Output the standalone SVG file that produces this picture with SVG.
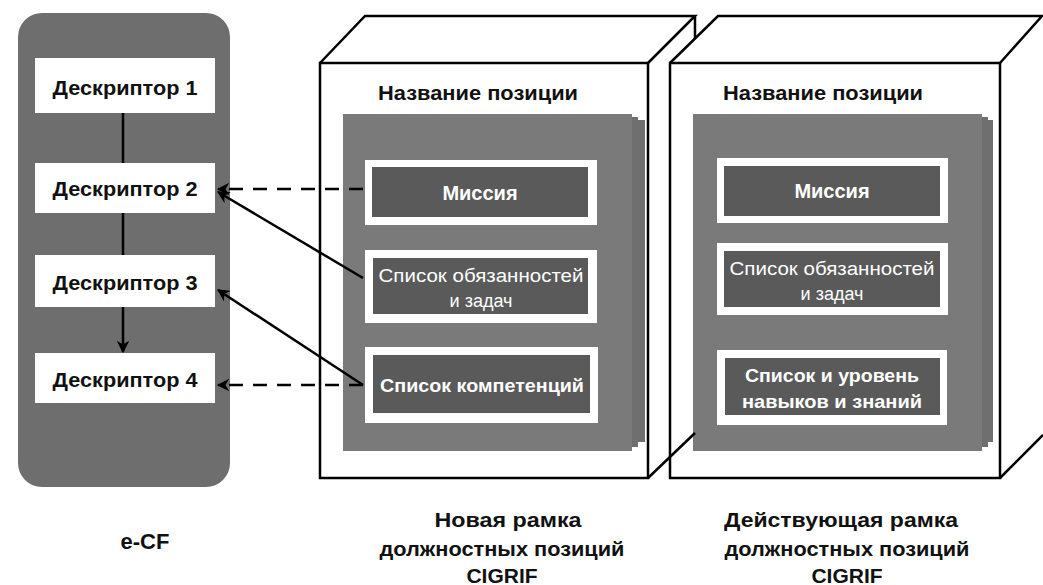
<svg xmlns="http://www.w3.org/2000/svg" width="1043" height="585" viewBox="0 0 1043 585">
<defs>
<style>
.lbl{font-family:"Liberation Sans",Arial,sans-serif;font-weight:bold;fill:#111;text-anchor:middle}
.wt{font-family:"Liberation Sans",Arial,sans-serif;fill:#fff;text-anchor:middle}
.edge{fill:none;stroke:#000;stroke-width:2.5}
.conn{fill:none;stroke:#000;stroke-width:2.5}
.dash{stroke-dasharray:14 10}
.desc{fill:#fff}
.sheet{fill:#6f6f6f}
.sheetf{fill:#7a7a7a}
.frame{fill:#fff}
.inner{fill:#5a5a5a}
</style>
<marker id="ah" viewBox="0 0 10 10" refX="9" refY="5" markerWidth="5" markerHeight="5" orient="auto-start-reverse" markerUnits="strokeWidth">
<path d="M0,0 L10,5 L0,10 L3,5 Z" fill="#000"/>
</marker>
</defs>
<rect width="1043" height="585" fill="#fff"/>

<g id="ecf">
<rect x="18" y="13" width="212" height="474" rx="24" fill="#6e6e6e"/>
<text class="lbl" x="145" y="549" font-size="22">e-CF</text>
</g>
<g id="d1"><rect class="desc" x="35" y="58" width="180" height="55"/><text class="lbl" x="125" y="95" font-size="21" textLength="145" lengthAdjust="spacingAndGlyphs">Дескриптор 1</text></g>
<g id="d2"><rect class="desc" x="35" y="163" width="180" height="50"/><text class="lbl" x="125" y="196" font-size="21" textLength="145" lengthAdjust="spacingAndGlyphs">Дескриптор 2</text></g>
<g id="d3"><rect class="desc" x="35" y="255" width="180" height="52"/><text class="lbl" x="125" y="290" font-size="21" textLength="145" lengthAdjust="spacingAndGlyphs">Дескриптор 3</text></g>
<g id="d4"><rect class="desc" x="35" y="353" width="180" height="50"/><text class="lbl" x="125" y="387" font-size="21" textLength="145" lengthAdjust="spacingAndGlyphs">Дескриптор 4</text></g>

<g id="cube1">
<polygon points="320,63 365,16 695,16 648,63" fill="#fff"/>
<polygon points="648,63 695,16 695,433 648,478" fill="#fff"/>
<rect x="320" y="63" width="328" height="415" fill="#fff"/>
<path class="edge" d="M320,63 L365,16 L695,16 L648,63 M695,16 L695,115"/>
<rect class="edge" x="320" y="63" width="328" height="415"/>
<text class="lbl" x="478" y="100" font-size="21" textLength="200" lengthAdjust="spacingAndGlyphs">Название позиции</text>
<rect class="sheet" x="353" y="120" width="292" height="322"/>
<rect class="sheet" x="348" y="117" width="290" height="330" fill="#666"/>
<rect class="sheetf" x="343" y="114" width="289" height="337"/>
<rect class="frame" x="365" y="160" width="232" height="65"/>
<rect class="inner" x="372" y="167" width="216" height="50"/>
<text class="wt" x="480" y="200" font-size="20" font-weight="bold">Миссия</text>
<rect class="frame" x="365" y="250" width="232" height="73"/>
<rect class="inner" x="373" y="258" width="215" height="56"/>
<text class="wt" x="481" y="282" font-size="18" textLength="205" lengthAdjust="spacingAndGlyphs">Список обязанностей</text>
<text class="wt" x="481" y="307" font-size="18">и задач</text>
<rect class="frame" x="365" y="347" width="233" height="76"/>
<rect class="inner" x="373" y="355" width="217" height="58"/>
<text class="wt" x="482" y="392" font-size="19" font-weight="bold" textLength="204" lengthAdjust="spacingAndGlyphs">Список компетенций</text>
</g>

<g id="cube2">
<polygon points="670,63 718,16 1042,16 1000,63" fill="#fff"/>
<polygon points="1000,63 1042,16 1042,435 1000,478" fill="#fff"/>
<rect x="670" y="63" width="330" height="415" fill="#fff"/>
<path class="edge" d="M670,63 L718,16 L1042,16 L1000,63 M1000,478 L1043,435"/>
<rect class="edge" x="670" y="63" width="330" height="415"/>
<text class="lbl" x="823" y="100" font-size="21" textLength="200" lengthAdjust="spacingAndGlyphs">Название позиции</text>
<rect class="sheet" x="703" y="120" width="290" height="322"/>
<rect class="sheet" x="698" y="117" width="290" height="330" fill="#666"/>
<rect class="sheetf" x="693" y="114" width="289" height="337"/>
<rect class="frame" x="717" y="158" width="231" height="65"/>
<rect class="inner" x="724" y="166" width="216" height="50"/>
<text class="wt" x="832" y="198" font-size="20" font-weight="bold">Миссия</text>
<rect class="frame" x="717" y="243" width="231" height="72"/>
<rect class="inner" x="724" y="251" width="216" height="56"/>
<text class="wt" x="832" y="275" font-size="18" textLength="205" lengthAdjust="spacingAndGlyphs">Список обязанностей</text>
<text class="wt" x="832" y="300" font-size="18">и задач</text>
<rect class="frame" x="717" y="350" width="230" height="75"/>
<rect class="inner" x="725" y="358" width="215" height="57"/>
<text class="wt" x="832" y="382" font-size="19" font-weight="bold" textLength="174" lengthAdjust="spacingAndGlyphs">Список и уровень</text>
<text class="wt" x="832" y="408" font-size="19" font-weight="bold" textLength="180" lengthAdjust="spacingAndGlyphs">навыков и знаний</text>
</g>

<g id="cube1-overlay">
<path class="edge" d="M648,478 L695,433"/>
</g>

<g id="labels">
<text class="lbl" x="508" y="527" font-size="21" textLength="147" lengthAdjust="spacingAndGlyphs">Новая рамка</text>
<text class="lbl" x="502" y="556" font-size="21" textLength="245" lengthAdjust="spacingAndGlyphs">должностных позиций</text>
<text class="lbl" x="502" y="583" font-size="21">CIGRIF</text>
<text class="lbl" x="841" y="527" font-size="21" textLength="234" lengthAdjust="spacingAndGlyphs">Действующая рамка</text>
<text class="lbl" x="847" y="556" font-size="21" textLength="245" lengthAdjust="spacingAndGlyphs">должностных позиций</text>
<text class="lbl" x="847" y="583" font-size="21">CIGRIF</text>
</g>

<g id="connectors">
<line class="conn" x1="123" y1="113" x2="123" y2="163"/>
<line class="conn" x1="123" y1="213" x2="123" y2="255"/>
<line class="conn" x1="123" y1="307" x2="123" y2="352" marker-end="url(#ah)"/>
<line class="conn dash" x1="363" y1="189" x2="218" y2="189" marker-end="url(#ah)"/>
<line class="conn" x1="363" y1="278" x2="218" y2="192" marker-end="url(#ah)"/>
<line class="conn" x1="363" y1="385" x2="218" y2="290" marker-end="url(#ah)"/>
<line class="conn dash" x1="363" y1="385" x2="218" y2="385" marker-end="url(#ah)"/>
</g>
</svg>
